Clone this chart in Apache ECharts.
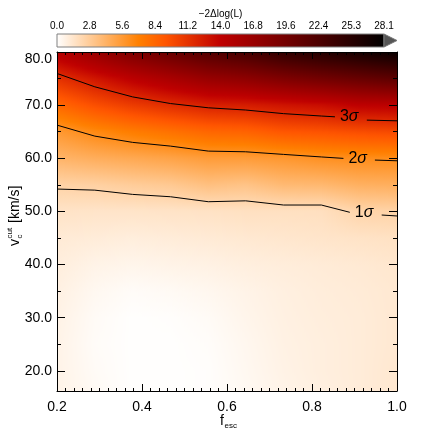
<!DOCTYPE html>
<html><head><meta charset="utf-8">
<script src="https://cdn.jsdelivr.net/npm/echarts@6/dist/echarts.min.js"></script>
<style>html,body{margin:0;padding:0;background:#fff}#c{width:436px;height:436px}</style>
</head><body><div id="c"></div>
<script>
// ---- data ----
const fEsc = [0.2, 0.289, 0.378, 0.467, 0.556, 0.644, 0.733, 0.822, 0.911, 1.0];
const vCut = [16.2, 20, 25, 30, 35, 40, 45, 50, 55, 60, 65, 70, 75, 80];
// -2 dlog(L) per vCut row (columns follow fEsc)
const z16 = [0.65, 0.3, 0.05, 0.05, 0.1, 0.35, 0.65, 0.85, 1.05, 1.3];
const z20 = [0.65, 0.25, 0.05, 0.05, 0.1, 0.4, 0.7, 0.9, 1.05, 1.3];
const z25 = [0.65, 0.2, 0.05, 0.05, 0.15, 0.45, 0.75, 0.9, 1.05, 1.25];
const z30 = [0.7, 0.25, 0.05, 0.1, 0.25, 0.55, 0.8, 0.95, 1.05, 1.25];
const z35 = [0.8, 0.4, 0.2, 0.3, 0.45, 0.65, 0.85, 1.0, 1.1, 1.25];
const z40 = [0.95, 0.65, 0.55, 0.65, 0.75, 0.9, 1.0, 1.1, 1.2, 1.35];
const z45 = [1.15, 1.05, 0.95, 1.05, 1.15, 1.25, 1.35, 1.45, 1.55, 1.65];
const z50 = [1.55, 1.5, 1.5, 1.55, 1.6, 1.7, 1.7, 1.75, 2.35, 2.45];
const z55 = [2.45, 2.55, 2.8, 3.0, 3.5, 3.3, 3.85, 3.94, 4.36, 4.45];
const z60 = [4.15, 4.53, 4.8, 5.1, 5.5, 5.5, 5.75, 6.1, 6.3, 6.35];
const z65 = [5.6, 6.5, 7.2, 7.8, 8.4, 8.6, 9.3, 9.5, 9.8, 10.0];
const z70 = [8.36, 9.73, 10.8, 11.6, 12.31, 12.5, 13.0, 13.4, 14.2, 14.4];
const z75 = [11.27, 12.8, 14.3, 15.6, 16.9, 17.6, 18.7, 19.6, 20.4, 21.2];
const z80 = [15, 17, 19, 20.5, 22, 23, 24.5, 25.5, 26.5, 27.5];
const zRows = [z16, z20, z25, z30, z35, z40, z45, z50, z55, z60, z65, z70, z75, z80];

// contour lines (left part before the label, right part after it)
const sigma3Left = [[0.2,75.96],[0.289,73.45],[0.378,71.55],[0.467,70.3],[0.556,69.5],[0.644,69.08],[0.733,68.4],[0.822,67.95],[0.854,67.8]];
const sigma3Right = [[0.929,67.18],[1.0,67.05]];
const sigma2Left = [[0.2,66.24],[0.289,64.17],[0.378,62.99],[0.467,62.29],[0.556,61.35],[0.644,61.22],[0.733,60.73],[0.822,60.25],[0.874,59.98]];
const sigma2Right = [[0.948,59.66],[1.0,59.53]];
const sigma1Left = [[0.2,54.21],[0.289,54.0],[0.378,53.2],[0.467,52.76],[0.556,51.82],[0.644,51.99],[0.733,51.2],[0.822,51.2],[0.889,49.83]];
const sigma1Right = [[0.964,49.32],[1.0,49.14]];

const xTicks = [0.2, 0.4, 0.6, 0.8, 1.0];
const vTicks = [20, 30, 40, 50, 60, 70, 80];
const vMinorTicks = [25, 35, 45, 55, 65, 75];
const cbarLabels = ['0.0','2.8','5.6','8.4','11.2','14.0','16.8','19.6','22.4','25.3','28.1'];
const zMax = 28.1;

// ---- colour map (heat, reversed) ----
const cmapStops = [[0,[255,255,255]],[0.25,[255,128,0]],[1/3,[255,85,0]],[0.5,[191,0,0]],[1,[0,0,0]]];
function cmap(t){
  t = Math.max(0, Math.min(1, t));
  for (let k = 1; k < cmapStops.length; k++) {
    if (t <= cmapStops[k][0]) {
      const t0 = cmapStops[k-1][0], c0 = cmapStops[k-1][1], t1 = cmapStops[k][0], c1 = cmapStops[k][1];
      const f = (t - t0) / (t1 - t0);
      return 'rgb(' + c0.map((c, i) => Math.round(c + (c1[i] - c) * f)).join(',') + ')';
    }
  }
  return 'rgb(0,0,0)';
}

const FONT = '"Liberation Sans", Arial, Helvetica, sans-serif';
const cells = [];
for (let j = 0; j < vCut.length - 1; j++)
  for (let i = 0; i < fEsc.length - 1; i++) cells.push([fEsc[i], vCut[j], i, j]);

// each cell: 1-px vertical strips (snapped to pixels), each shaded along v with a gradient
const NG = 8;
function renderCell(params, api){
  const i = api.value(2), j = api.value(3);
  const p0 = api.coord([fEsc[i], vCut[j]]);
  const p1 = api.coord([fEsc[i+1], vCut[j+1]]);
  const a00 = zRows[j][i], a10 = zRows[j][i+1], a01 = zRows[j+1][i], a11 = zRows[j+1][i+1];
  const xs = Math.round(p0[0]), xe = Math.round(p1[0]);
  const yt = Math.round(p1[1]), yb = Math.round(p0[1]);
  const children = [];
  for (let px = xs; px < xe; px++) {
    const u = Math.min(1, Math.max(0, (px + 0.5 - p0[0]) / (p1[0] - p0[0])));
    const vb = a00*(1-u) + a10*u, vt = a01*(1-u) + a11*u;
    const stops = [];
    for (let g = 0; g <= NG; g++) {
      const s = g / NG;
      stops.push({offset:s, color:cmap((vt + (vb - vt)*s) / zMax)});
    }
    children.push({type:'rect', silent:true,
      shape:{x: px, y: yt, width: 1, height: yb - yt},
      style:{fill:{type:'linear', x:0, y:0, x2:0, y2:1, colorStops:stops}}});
  }
  return {type:'group', children};
}

function renderCbar(params, api){
  const cs = params.coordSys;
  return {type:'group', children:[
    {type:'rect', shape:{x:cs.x, y:cs.y, width:cs.width, height:cs.height},
     style:{fill:{type:'linear', x:0, y:0, x2:1, y2:0, colorStops:cmapStops.map(s => ({offset:s[0], color:'rgb('+s[1].join(',')+')'}))}, stroke:'#808080', lineWidth:1}},
    {type:'polygon', shape:{points:[[cs.x+cs.width, cs.y],[cs.x+cs.width+13, cs.y+cs.height/2],[cs.x+cs.width, cs.y+cs.height]]},
     style:{fill:'#555555', stroke:'#777777', lineWidth:1}}
  ]};
}

const axLine = {show:true, onZero:false, lineStyle:{color:'#000', width:1}};
const lbl = {color:'#000', fontSize:14, fontFamily:FONT};

function contour(data, text, withLabel){
  const s = {type:'line', xAxisIndex:0, yAxisIndex:0, data, showSymbol:false, symbol:'none', z:4,
    lineStyle:{color:'#000', width:1}, silent:true};
  if (withLabel) {
    s.endLabel = {show:true, distance:5, formatter:'{n|' + text + '}{s|σ}',
      rich:{n:{fontSize:16, fontFamily:FONT, color:'#000'}, s:{fontSize:16, fontFamily:FONT, fontStyle:'italic', color:'#000'}}};
  }
  return s;
}

const option = {
  animation:false,
  backgroundColor:'#fff',
  grid:[
    {left:57, top:52, width:340, height:339},
    {left:57, top:34, width:327, height:13}
  ],
  xAxis:[
    {gridIndex:0, type:'value', position:'bottom', min:0.2, max:1.0, interval:0.2, z:10,
     axisLine:axLine, axisTick:{inside:true, length:7, lineStyle:{color:'#000'}},
     minorTick:{show:true, splitNumber:10, length:3, lineStyle:{color:'#000'}},
     splitLine:{show:false}, minorSplitLine:{show:false},
     axisLabel:Object.assign({margin:9, formatter:v => v.toFixed(1)}, lbl)},
    {gridIndex:0, type:'value', position:'top', min:0.2, max:1.0, interval:0.2, z:10,
     axisLine:axLine, axisTick:{inside:true, length:7, lineStyle:{color:'#000'}},
     minorTick:{show:true, splitNumber:10, length:3, lineStyle:{color:'#000'}},
     splitLine:{show:false}, axisLabel:{show:false}},
    {gridIndex:1, type:'category', position:'top', data:cbarLabels, boundaryGap:false,
     axisLine:{show:false}, axisTick:{show:false}, splitLine:{show:false},
     axisLabel:{color:'#000', fontSize:10, fontFamily:FONT, margin:3, interval:0},
     name:'−2Δlog(L)', nameLocation:'middle', nameGap:15,
     nameTextStyle:{color:'#000', fontSize:10, fontFamily:FONT}}
  ],
  yAxis:[
    {gridIndex:0, type:'value', position:'left', min:16.2, max:80, z:10,
     axisLine:axLine, axisTick:{inside:true, length:8, customValues:vTicks, lineStyle:{color:'#000'}},
     splitLine:{show:false},
     axisLabel:Object.assign({margin:5, customValues:vTicks, verticalAlignMaxLabel:'top', formatter:v => v.toFixed(1)}, lbl)},
    {gridIndex:0, type:'value', position:'right', min:16.2, max:80, z:10,
     axisLine:axLine, axisTick:{inside:true, length:8, customValues:vTicks, lineStyle:{color:'#000'}},
     splitLine:{show:false}, axisLabel:{show:false}},
    {gridIndex:1, type:'value', min:0, max:1, show:false},
    {gridIndex:0, type:'value', position:'left', min:16.2, max:80, z:10,
     axisLine:{show:false}, axisTick:{inside:true, length:4, customValues:vMinorTicks, lineStyle:{color:'#000'}},
     splitLine:{show:false}, axisLabel:{show:false}},
    {gridIndex:0, type:'value', position:'right', min:16.2, max:80, z:10,
     axisLine:{show:false}, axisTick:{inside:true, length:4, customValues:vMinorTicks, lineStyle:{color:'#000'}},
     splitLine:{show:false}, axisLabel:{show:false}}
  ],
  series:[
    {type:'custom', xAxisIndex:0, yAxisIndex:0, data:cells, encode:{x:0, y:1}, renderItem:renderCell, z:1, silent:true},
    {type:'custom', xAxisIndex:2, yAxisIndex:2, data:[[0, 0.5]], renderItem:renderCbar, z:1, silent:true},
    contour(sigma3Left, '3', true), contour(sigma3Right, '3', false),
    contour(sigma2Left, '2', true), contour(sigma2Right, '2', false),
    contour(sigma1Left, '1', true), contour(sigma1Right, '1', false)
  ],
  graphic:[
    {type:'text', x:224, y:421, silent:true, style:{text:'f', fontSize:14, fontFamily:FONT, fill:'#000', align:'right', verticalAlign:'middle'}},
    {type:'text', x:224.5, y:426, silent:true, style:{text:'esc', fontSize:8, fontFamily:FONT, fill:'#000', align:'left', verticalAlign:'middle'}},
    {type:'group', x:15, y:216, rotation:Math.PI/2, silent:true, children:[
      {type:'text', x:-30, y:0, style:{text:'v', fontSize:14, fontFamily:FONT, fill:'#000', align:'left', verticalAlign:'middle'}},
      {type:'text', x:-22.5, y:-5, style:{text:'cut', fontSize:8, fontFamily:FONT, fill:'#000', align:'left', verticalAlign:'middle'}},
      {type:'text', x:-22.5, y:5, style:{text:'c', fontSize:8, fontFamily:FONT, fill:'#000', align:'left', verticalAlign:'middle'}},
      {type:'text', x:-7, y:0, style:{text:'[km/s]', fontSize:14, fontFamily:FONT, fill:'#000', align:'left', verticalAlign:'middle'}}
    ]}
  ]
};
const chart = echarts.init(document.getElementById('c'));
chart.setOption(option);
</script></body></html>
